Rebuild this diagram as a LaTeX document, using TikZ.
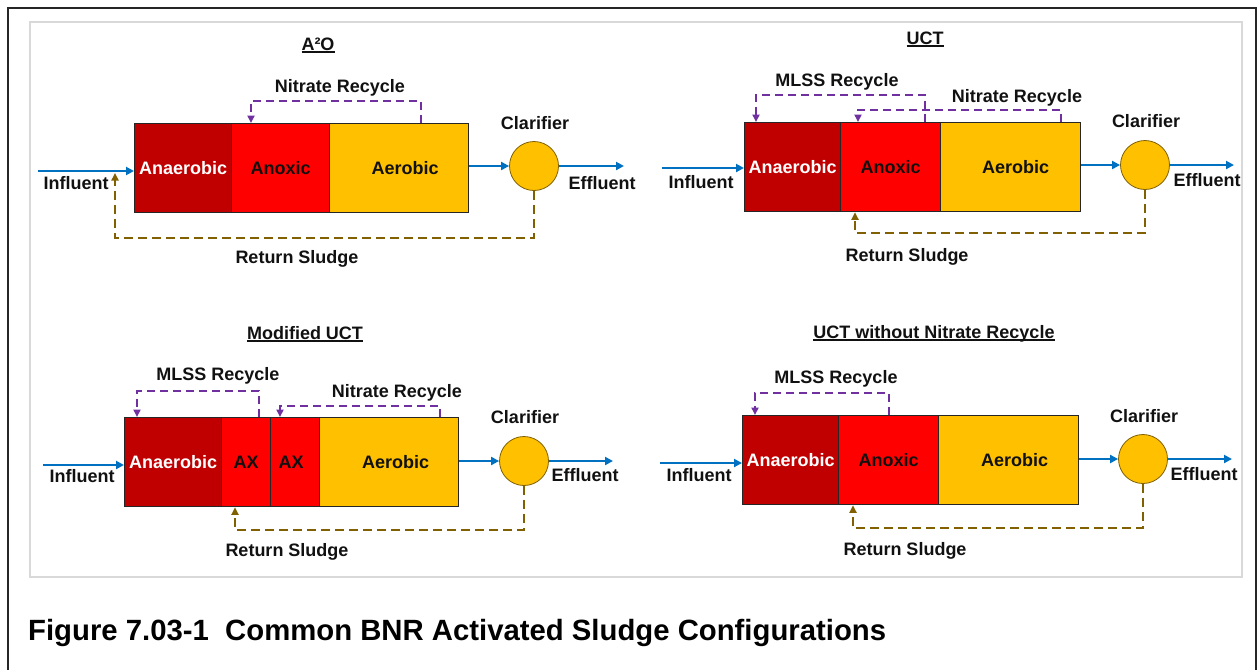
\documentclass[tikz,border=0pt]{standalone}
\usepackage{fontspec}
\setmainfont{Liberation Sans}
\usetikzlibrary{arrows.meta}
\definecolor{cDR}{HTML}{C00000}
\definecolor{cR}{HTML}{FF0000}
\definecolor{cG}{HTML}{FFC000}
\definecolor{cBlue}{HTML}{0070C0}
\definecolor{cPur}{HTML}{7030A0}
\definecolor{cBrn}{HTML}{806000}
\definecolor{cClarEdge}{HTML}{7F6000}
\definecolor{cFrame}{HTML}{D9D9D9}
\definecolor{cTxt}{HTML}{111111}
\newcommand\lblfont{\fontsize{18}{21}\selectfont\bfseries}
\newcommand\capfont{\fontsize{29.3}{34}\selectfont\bfseries}
\newcommand\ulined[1]{\setbox0\hbox{#1}\rlap{\rule[-2.6pt]{\wd0}{1.3pt}}\box0}
\tikzset{
  cell/.style={draw=black!85, line width=1.3pt, minimum height=89, inner sep=0pt,
    anchor=north west, font=\lblfont, text=cTxt},
  lbl/.style={font=\lblfont, text=cTxt, anchor=base, inner sep=0pt},
  clar/.style={circle, draw=cClarEdge, line width=0.8pt, fill=cG, minimum size=49, inner sep=0pt},
  flow/.style={draw=cBlue, line width=2.3pt, -{Triangle[length=8pt,width=8pt]}},
  recyc/.style={draw=cPur, line width=2.3pt, dash pattern=on 8pt off 5pt,
    -{Triangle[length=7.5pt,width=7pt]}},
  sludge/.style={draw=cBrn, line width=2.3pt, dash pattern=on 9pt off 5pt,
    -{Triangle[length=7.5pt,width=7pt]}},
}
\begin{document}
\begin{tikzpicture}[x=1pt,y=-1pt]
\useasboundingbox (0,0) rectangle (1257,670);
% frames
\draw[line width=1.6pt, black!85] (8,670) -- (8,8) -- (1256,8) -- (1256,670);
\draw[line width=2pt, cFrame] (30,22) rectangle (1242,577);

% ===== A2O =====
\node[cell, fill=cDR, text=white, minimum width=97] (a1) at (134,123) {Anaerobic};
\node[cell, fill=cR, minimum width=98] (a2) at (231,123) {Anoxic};
\node[cell, fill=cG, minimum width=139] (a3) at (329,123) {\hspace*{12pt}Aerobic};
\node[clar] (acl) at (534,166) {};
\node[lbl] (at) at (318,50) {\ulined{A²O}};
\node[lbl] (anr) at (340,92) {Nitrate Recycle};
\node[lbl] (ain) at (76,189) {Influent};
\node[lbl] (aef) at (602,189) {Effluent};
\node[lbl] (acll) at (535,129) {Clarifier};
\node[lbl] (ars) at (297,263) {Return Sludge};
\coordinate (ain0) at (38,171);
\coordinate (aout) at (624,166);
\draw[flow] (ain0) -- (ain0 -| a1.west);
\draw[flow] (a3.east |- acl) -- (acl.west);
\draw[flow] (acl.east) -- (aout);
\draw[recyc] ([xshift=92]a3.north west) -- ++(0,-22) -| ([xshift=20]a2.north west);
\draw[sludge] (acl.south) -- ++(0,47) -| ([shift={(77,2)}]ain0);

% ===== UCT =====
\node[cell, fill=cDR, text=white, minimum width=96] (u1) at (744,122) {Anaerobic};
\node[cell, fill=cR, minimum width=100] (u2) at (840,122) {Anoxic};
\node[cell, fill=cG, minimum width=140] (u3) at (940,122) {\hspace*{10pt}Aerobic};
\node[clar] (ucl) at (1145,165) {};
\node[lbl] (ut) at (925,44) {\ulined{UCT}};
\node[lbl] (uml) at (837,86) {MLSS Recycle};
\node[lbl] (unr) at (1017,102) {Nitrate Recycle};
\node[lbl] (uin) at (701,188) {Influent};
\node[lbl] (uef) at (1207,186) {Effluent};
\node[lbl] (ucll) at (1146,127) {Clarifier};
\node[lbl] (urs) at (907,261) {Return Sludge};
\coordinate (uin0) at (662,168);
\coordinate (uout) at (1234,165);
\draw[flow] (uin0) -- (uin0 -| u1.west);
\draw[flow] (u3.east |- ucl) -- (ucl.west);
\draw[flow] (ucl.east) -- (uout);
\draw[recyc] ([xshift=85]u2.north west) -- ++(0,-27) -| ([xshift=12]u1.north west);
\draw[recyc] ([xshift=121]u3.north west) -- ++(0,-12) -| ([xshift=18]u2.north west);
\draw[sludge] (ucl.south) -- ++(0,43) -| ([xshift=15]u2.south west);

% ===== Modified UCT =====
\node[cell, fill=cDR, text=white, minimum width=97] (m1) at (124,417) {Anaerobic};
\node[cell, fill=cR, minimum width=49] (m2) at (221,417) {AX};
\node[cell, fill=cR, minimum width=49] (m3) at (270,417) {AX\hspace*{8pt}};
\node[cell, fill=cG, minimum width=139] (m4) at (319,417) {\hspace*{13pt}Aerobic};
\node[clar] (mcl) at (524,461) {};
\node[lbl] (mt) at (305,339) {\ulined{Modified UCT}};
\node[lbl] (mml) at (218,380) {MLSS Recycle};
\node[lbl] (mnr) at (397,397) {Nitrate Recycle};
\node[lbl] (min) at (82,482) {Influent};
\node[lbl] (mef) at (585,481) {Effluent};
\node[lbl] (mcll) at (525,423) {Clarifier};
\node[lbl] (mrs) at (287,556) {Return Sludge};
\coordinate (min0) at (43,465);
\coordinate (mout) at (613,461);
\draw[flow] (min0) -- (min0 -| m1.west);
\draw[flow] (m4.east |- mcl) -- (mcl.west);
\draw[flow] (mcl.east) -- (mout);
\draw[recyc] ([xshift=38]m2.north west) -- ++(0,-26) -| ([xshift=13]m1.north west);
\draw[recyc] ([xshift=121]m4.north west) -- ++(0,-11) -| ([xshift=10]m3.north west);
\draw[sludge] (mcl.south) -- ++(0,44) -| ([xshift=14]m2.south west);

% ===== UCT without Nitrate Recycle =====
\node[cell, fill=cDR, text=white, minimum width=96] (w1) at (742,415) {Anaerobic};
\node[cell, fill=cR, minimum width=100] (w2) at (838,415) {Anoxic};
\node[cell, fill=cG, minimum width=140] (w3) at (938,415) {\hspace*{12pt}Aerobic};
\node[clar] (wcl) at (1143,459) {};
\node[lbl] (wt) at (934,338) {\ulined{UCT without Nitrate Recycle}};
\node[lbl] (wml) at (836,383) {MLSS Recycle};
\node[lbl] (win) at (699,481) {Influent};
\node[lbl] (wef) at (1204,480) {Effluent};
\node[lbl] (wcll) at (1144,422) {Clarifier};
\node[lbl] (wrs) at (905,555) {Return Sludge};
\coordinate (win0) at (660,463);
\coordinate (wout) at (1232,459);
\draw[flow] (win0) -- (win0 -| w1.west);
\draw[flow] (w3.east |- wcl) -- (wcl.west);
\draw[flow] (wcl.east) -- (wout);
\draw[recyc] ([xshift=51]w2.north west) -- ++(0,-22) -| ([xshift=13]w1.north west);
\draw[sludge] (wcl.south) -- ++(0,44) -| ([xshift=15]w2.south west);

% caption
\node[anchor=base west, font=\capfont, text=black, inner sep=0pt] (cap) at (28,640)
  {Figure 7.03-1\ \ Common BNR Activated Sludge Configurations};
\end{tikzpicture}
\end{document}
